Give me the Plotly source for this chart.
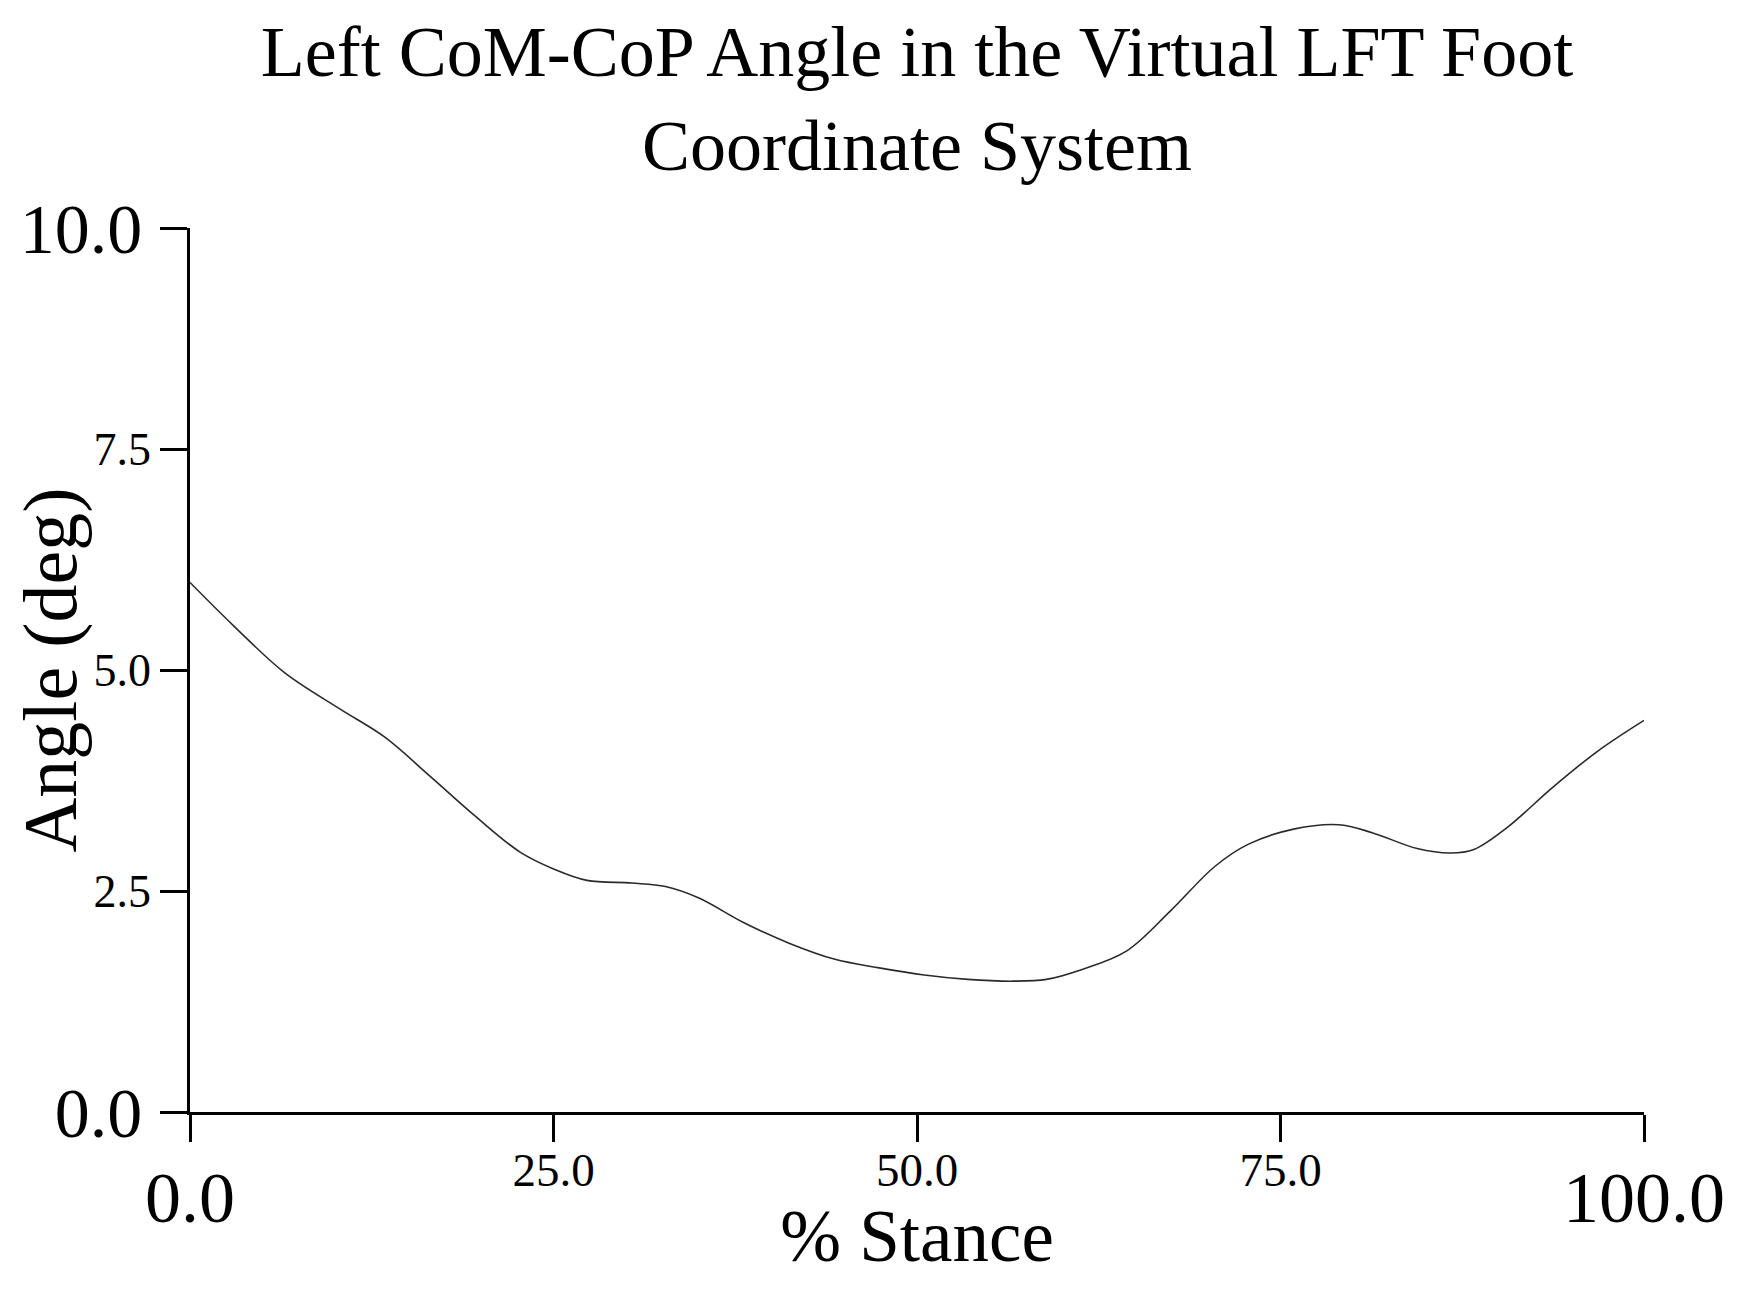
import plotly.graph_objects as go

# Data
stance = [0, 3, 6.5, 10.3, 13.4, 16.5, 19.6, 22.7, 25, 27.3, 30.4, 32.7, 35, 38.1,
          41.2, 44.3, 47.4, 50.5, 53.5, 56.6, 58.9, 61.3, 64.4, 67.4, 70.5, 72.8,
          75.9, 79, 81.3, 84.4, 86.7, 88.3, 90.6, 93.7, 96.8, 100]
angle = [5.99, 5.5, 4.97, 4.56, 4.24, 3.80, 3.35, 2.94, 2.75, 2.62, 2.59, 2.55, 2.42, 2.14,
         1.91, 1.73, 1.63, 1.55, 1.50, 1.48, 1.50, 1.61, 1.82, 2.27, 2.78, 3.03,
         3.20, 3.25, 3.16, 2.98, 2.93, 2.97, 3.22, 3.67, 4.08, 4.43]

x_minor_ticks = [25, 50, 75]
x_minor_text = ["25.0", "50.0", "75.0"]
x_major_ticks = [0, 100]
x_major_text = ["0.0", "100.0"]
y_minor_ticks = [2.5, 5, 7.5]
y_minor_text = ["2.5", "5.0", "7.5"]
y_major_ticks = [0, 10]
y_major_text = ["0.0", "10.0"]

FONT = "Liberation Serif"

fig = go.Figure()
fig.add_trace(go.Scatter(x=stance, y=angle, mode="lines", line=dict(color="#2a2a2a", width=1.6, shape="spline"),
                         showlegend=False, hoverinfo="skip"))
# invisible trace on overlay axes to activate them
fig.add_trace(go.Scatter(x=[0, 100], y=[0, 10], xaxis="x2", yaxis="y2", mode="markers",
                         marker=dict(opacity=0), showlegend=False, hoverinfo="skip"))

axis_common = dict(showgrid=False, zeroline=False, showline=True, linecolor="black", linewidth=2.5,
                   ticks="outside", tickcolor="black", tickwidth=2.5, ticklen=27)

fig.update_layout(
    width=1763, height=1293, autosize=False,
    paper_bgcolor="white", plot_bgcolor="white",
    margin=dict(l=177, r=127, t=220, b=189),
    title=dict(text="Left CoM-CoP Angle in the Virtual LFT Foot<br>Coordinate System",
               x=0.5, xref="paper", xanchor="center", y=1 - 68 / 1293, yref="container", yanchor="middle",
               font=dict(family=FONT, size=72, color="black")),
    xaxis=dict(range=[0, 100], tickvals=x_minor_ticks, ticktext=x_minor_text,
               tickfont=dict(family=FONT, size=47, color="black"), ticklabelstandoff=-12,
               title=dict(text="% Stance", font=dict(family=FONT, size=73, color="black"), standoff=5),
               **axis_common),
    yaxis=dict(range=[0, 10], tickvals=y_minor_ticks, ticktext=y_minor_text,
               tickfont=dict(family=FONT, size=46, color="black"),
               title=dict(text="Angle (deg)", font=dict(family=FONT, size=76, color="black"), standoff=0),
               **axis_common),
    xaxis2=dict(range=[0, 100], overlaying="x", side="bottom", anchor="y2", tickvals=x_major_ticks,
                ticktext=x_major_text, tickfont=dict(family=FONT, size=72, color="black"),
                ticklabelstandoff=-6, **axis_common),
    yaxis2=dict(range=[0, 10], overlaying="y", side="left", anchor="x2", tickvals=y_major_ticks,
                ticktext=y_major_text, tickfont=dict(family=FONT, size=70, color="black"),
                ticklabelstandoff=4, **axis_common),
)

fig.write_html("out.html")
